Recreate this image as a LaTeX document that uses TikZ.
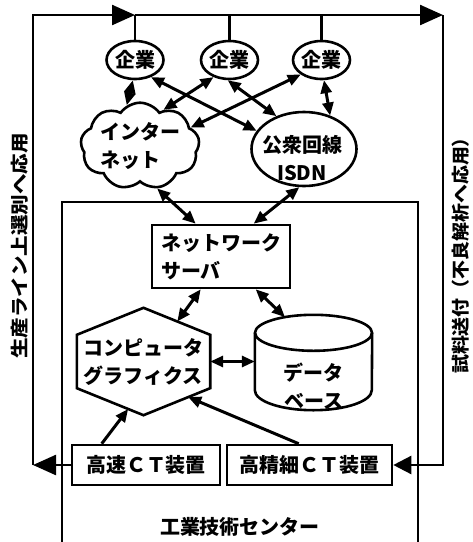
\documentclass[tikz,border=0pt]{standalone}
\usepackage{graphicx}
\usepackage{fontspec}
\setmainfont{Noto Sans CJK JP}
\usetikzlibrary{arrows.meta,shapes.geometric,shapes.symbols,calc}
\begin{document}
\begin{tikzpicture}[x=1pt,y=-1pt, line join=miter,
  every node/.style={font=\bfseries\fontsize{20}{28}\selectfont, inner sep=0pt},
  shp/.style={draw, line width=2.6pt},
  con/.style={line width=3pt, {Triangle[length=13pt,width=11pt]}-{Triangle[length=13pt,width=11pt]}},
  one/.style={line width=3pt, -{Triangle[length=13pt,width=11pt]}},
  loopline/.style={line width=2.4pt},
  bigtip/.style={-{Triangle[length=23pt,width=20pt]}},
  midtip/.style={-{Triangle[length=18pt,width=18pt]}},
  sidetext/.style={rotate=90, font=\bfseries\fontsize{18}{18}\selectfont}
]
\useasboundingbox[fill=white] (0,0) rectangle (473,542);

% companies
\node[shp, ellipse, minimum width=57pt, minimum height=38pt] (e1) at (135,60) {企業};
\node[shp, ellipse, minimum width=57pt, minimum height=38pt] (e2) at (229.5,60) {企業};
\node[shp, ellipse, minimum width=57pt, minimum height=38pt] (e3) at (321.5,60) {企業};

% internet cloud
\node[shp, cloud, cloud puffs=9, cloud puff arc=110, aspect=1.6, minimum width=115pt, minimum height=72pt, align=left] (net) at (140,146) {インター\\ネット};

% ISDN
\node[shp, ellipse, minimum width=105pt, minimum height=74pt] (isdn) at (304,149) {};
\node[align=center] (isdnt) at (302,158) {公衆回線\\ISDN};

% center frame
\draw[loopline] (62,542) -- (62,202) -- (418,202) -- (418,542);
\node (ctr) at (240,527) {工業技術センター};

% server
\node[shp, rectangle, minimum width=138pt, minimum height=63pt, align=left] (srv) at (221,256.5) {ネットワーク\\サーバ};

% computer graphics hexagon
\node[minimum width=133pt, minimum height=107pt, align=left] (cg) at (143.5,361.5) {コンピュータ\\グラフィクス};
\coordinate (h1) at ($(cg.north east)+(0,27)$);
\coordinate (h2) at ($(cg.south east)+(0,-27)$);
\coordinate (h3) at ($(cg.south west)+(0,-27)$);
\coordinate (h4) at ($(cg.north west)+(0,27)$);
\draw[shp] (cg.north) -- (h1) -- (h2) -- (cg.south) -- (h3) -- (h4) -- cycle;

% database cylinder
\node[minimum width=117pt, minimum height=95pt] (db) at (313.5,362.5) {};
\draw[shp] ($(db.north)+(0,18)$) ellipse [x radius=58.5pt, y radius=18pt];
\draw[shp] ($(db.north west)+(0,18)$) -- ($(db.south west)+(0,-20)$)
  arc[start angle=180, end angle=360, x radius=58.5pt, y radius=20pt]
  -- ($(db.north east)+(0,18)$);
\node[align=center] (dbt) at (313.5,386) {データ\\ベース};

% CT devices
\node[shp, minimum width=148pt, minimum height=40pt] (ct1) at (146,465) {高速ＣＴ装置};
\node[shp, minimum width=165pt, minimum height=40pt] (ct2) at (309.5,465) {高精細ＣＴ装置};

% side labels
\node[sidetext] (lside) at (20,246) {\scalebox{1.14}[1]{生産ライン上選別へ応用}};
\node[sidetext] (rside) at (461,251) {\scalebox{1.05}[1]{試料送付（不良解析へ応用）}};

% outer loop
\coordinate (TL) at (33,15);
\coordinate (TR) at (443,15);
\draw[loopline, bigtip] (ct1.west) -- (ct1.west -| TL);
\draw[loopline, bigtip] (ct1.west -| TL) -- (TL) -- (TL -| e1.north);
\draw[loopline, bigtip] (TL -| e1.north) -- (TR);
\draw[loopline, midtip] (TR) |- (ct2.east);
\draw[loopline] (e1.north) -- (e1.north |- TL);
\draw[loopline] (e2.north) -- (e2.north |- TL);
\draw[loopline] (e3.north) -- (e3.north |- TL);

% connectors companies
\draw[con] (e1.-96) -- (net.108);
\draw[con] (e1.-47) -- (isdn.159);
\draw[con] (e2.-133) -- (net.57);
\draw[con] (e2.-95) -- (isdn.130);
\draw[con] (e3.-145) -- (net.20);
\draw[con] (e3.-83) -- (isdn.52);

% to server
\coordinate (s1) at ($(srv.north west)+(45,0)$);
\coordinate (s2) at ($(srv.north west)+(103,0)$);
\draw[con] (net.-68) -- (s1);
\draw[con] (isdn.-97) -- (s2);
\coordinate (s3) at ($(srv.south west)+(50,0)$);
\coordinate (s4) at ($(srv.south west)+(105,0)$);
\coordinate (cgA) at ($(cg.north)!0.507!(h1)$);
\coordinate (dbA) at ($(db.north)+(-28.5,2.3)$);
\draw[con] (s3) -- (cgA);
\draw[con] (s4) -- (dbA);
\draw[con] (cg.east) -- (cg.east -| db.west);

% CT to graphics
\coordinate (c1) at ($(ct1.north west)+(31,0)$);
\coordinate (c2) at ($(ct2.north west)+(73,0)$);
\coordinate (cgB) at ($(h3)!0.77!(cg.south)$);
\coordinate (cgC) at ($(h2)!0.33!(cg.south)$);
\draw[one] (c1) -- (cgB);
\draw[one] (c2) -- (cgC);
\end{tikzpicture}
\end{document}
